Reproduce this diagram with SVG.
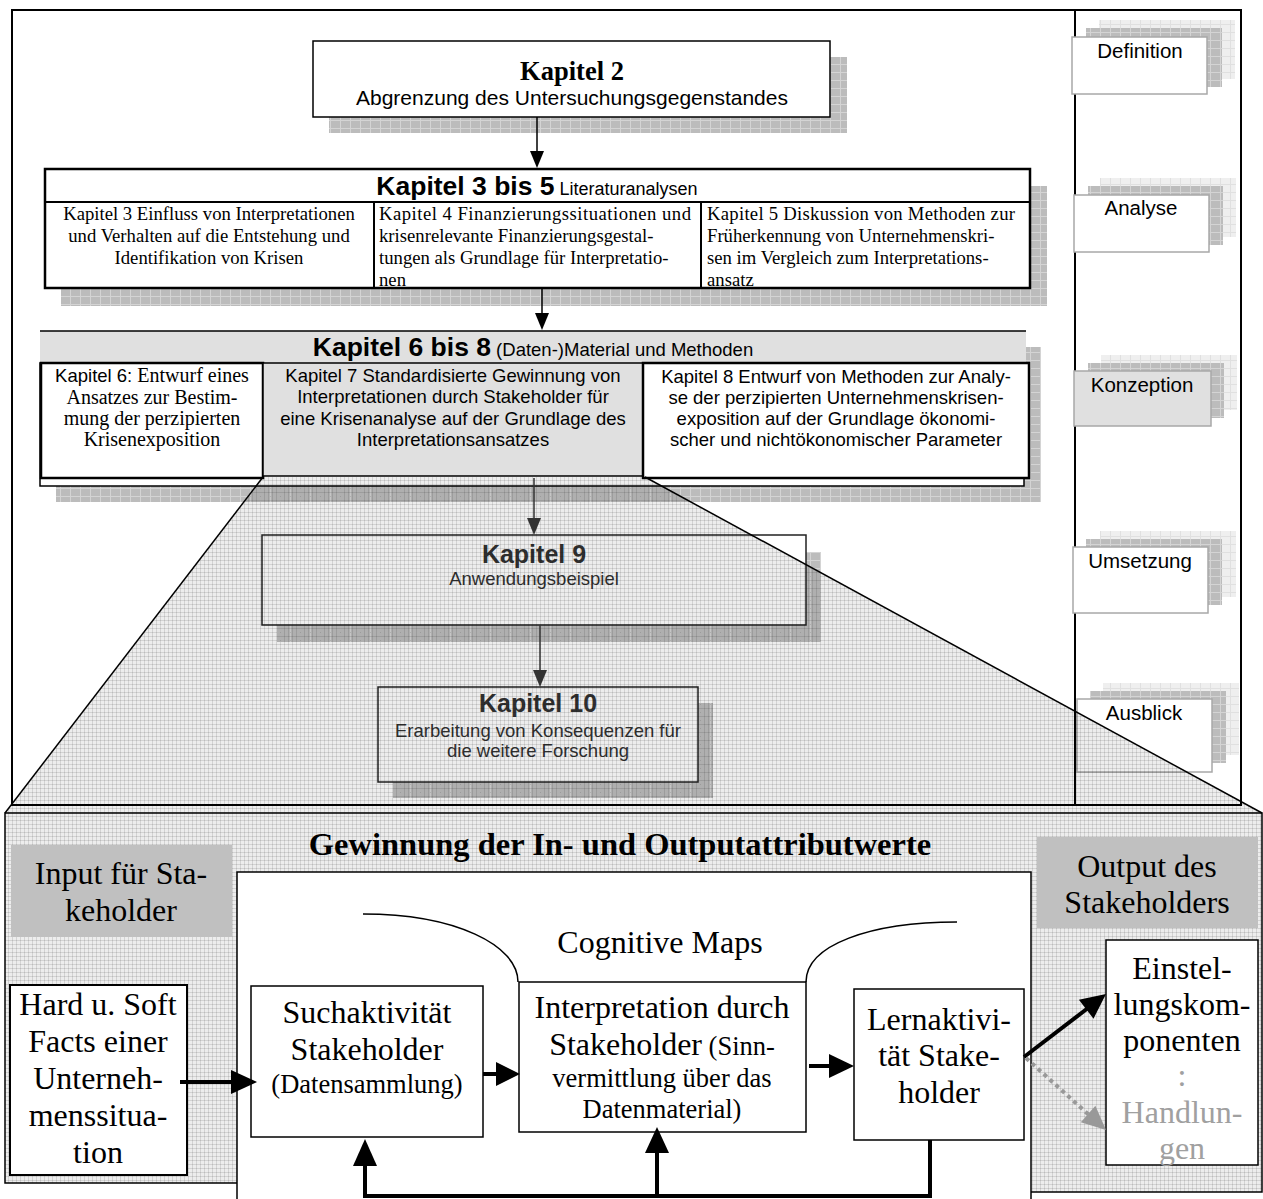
<svg xmlns="http://www.w3.org/2000/svg" width="1263" height="1199" viewBox="0 0 1263 1199">
<defs>
<style>
.sans{font-family:"Liberation Sans",Arial,sans-serif;}
.serif{font-family:"Liberation Serif","Times New Roman",serif;}
.b{font-weight:bold;}
.box{fill:#fff;stroke:#000;}
.lbl{fill:#fff;stroke:#a8a8a8;stroke-width:1.5;}
.ln{stroke:#000;fill:none;}
</style>
<pattern id="sh" width="10" height="8" patternUnits="userSpaceOnUse"><rect width="10" height="8" fill="#bcbcbc"/><path d="M0,0.5H10M0.5,0V8" stroke="#d4d4d4" stroke-width="1"/></pattern>
<pattern id="lt" width="10" height="8" patternUnits="userSpaceOnUse"><rect width="10" height="8" fill="#efefef"/><path d="M0,0.5H10M0.5,0V8" stroke="#e0e0e0" stroke-width="1"/></pattern>
<pattern id="mesh" width="4" height="4" patternUnits="userSpaceOnUse"><rect width="4" height="4" fill="#000" fill-opacity="0.07"/><path d="M0,0.5H4M0.5,0V4" stroke="#000" stroke-opacity="0.11" stroke-width="1"/></pattern>
</defs>
<rect width="1263" height="1199" fill="#fff"/>

<g id="frame">
<rect x="12" y="10" width="1229" height="795" fill="none" stroke="#000" stroke-width="2"/>
<line x1="1075" y1="10" x2="1075" y2="805" stroke="#000" stroke-width="2"/>
</g>

<g id="kapitel2">
<rect x="329" y="57" width="518" height="76" fill="url(#sh)"/>
<rect x="313" y="41" width="517" height="76" class="box" stroke-width="1.5"/>
<text x="572" y="80" class="serif b" font-size="26.5" text-anchor="middle">Kapitel 2</text>
<text x="572" y="105" class="sans" font-size="21" text-anchor="middle">Abgrenzung des Untersuchungsgegenstandes</text>
</g>

<g id="kapitel3-5">
<rect x="61" y="186" width="986" height="120" fill="url(#sh)"/>
<rect x="45" y="169" width="985" height="119" class="box" stroke-width="2.5"/>
<line x1="45" y1="202" x2="1030" y2="202" stroke="#000" stroke-width="2"/>
<line x1="374" y1="202" x2="374" y2="288" stroke="#000" stroke-width="2"/>
<line x1="701" y1="202" x2="701" y2="288" stroke="#000" stroke-width="2"/>
<text x="537" y="195" text-anchor="middle" class="sans"><tspan class="b" font-size="26.5">Kapitel 3 bis 5</tspan><tspan font-size="18"> Literaturanalysen</tspan></text>
<g class="serif" font-size="18.7" text-anchor="middle">
<text x="209" y="220">Kapitel 3 Einfluss von Interpretationen</text>
<text x="209" y="242">und Verhalten auf die Entstehung und</text>
<text x="209" y="264">Identifikation von Krisen</text>
</g>
<g class="serif" font-size="18.7">
<text x="379" y="220" textLength="312" lengthAdjust="spacing">Kapitel 4 Finanzierungssituationen und</text>
<text x="379" y="242">krisenrelevante Finanzierungsgestal-</text>
<text x="379" y="264">tungen als Grundlage für Interpretatio-</text>
<text x="379" y="286">nen</text>
<text x="707" y="220" textLength="308" lengthAdjust="spacing">Kapitel 5 Diskussion von Methoden zur</text>
<text x="707" y="242">Früherkennung von Unternehmenskri-</text>
<text x="707" y="264">sen im Vergleich zum Interpretations-</text>
<text x="707" y="286">ansatz</text>
</g>
</g>

<g id="kapitel6-8">
<rect x="56" y="347" width="985" height="155" fill="url(#sh)"/>
<rect x="40" y="363" width="984" height="123" class="box" stroke-width="1.5"/>
<rect x="40" y="331" width="986" height="32" fill="#e0e0e0"/>
<line x1="40" y1="331" x2="1026" y2="331" stroke="#000" stroke-width="1.5"/>
<rect x="41" y="363" width="222" height="115" class="box" stroke-width="2.5"/>
<rect x="263" y="363" width="380" height="113" fill="#e0e0e0" stroke="#000" stroke-width="1.5"/>
<rect x="643" y="363" width="386" height="115" class="box" stroke-width="2.5"/>
<text x="533" y="356" text-anchor="middle" class="sans"><tspan class="b" font-size="26.5">Kapitel 6 bis 8</tspan><tspan font-size="18.5"> (Daten-)Material und Methoden</tspan></text>
<g class="serif" font-size="20" text-anchor="middle">
<text x="152" y="382"><tspan class="sans" font-size="18.5">Kapitel 6:</tspan> Entwurf eines</text>
<text x="152" y="404">Ansatzes zur Bestim-</text>
<text x="152" y="425">mung der perzipierten</text>
<text x="152" y="446">Krisenexposition</text>
</g>
<g class="sans" font-size="18.5" text-anchor="middle">
<text x="453" y="382">Kapitel 7 Standardisierte Gewinnung von</text>
<text x="453" y="403">Interpretationen durch Stakeholder für</text>
<text x="453" y="425">eine Krisenanalyse auf der Grundlage des</text>
<text x="453" y="446">Interpretationsansatzes</text>
<text x="836" y="383">Kapitel 8 Entwurf von Methoden zur Analy-</text>
<text x="836" y="404">se der perzipierten Unternehmenskrisen-</text>
<text x="836" y="425">exposition auf der Grundlage ökonomi-</text>
<text x="836" y="446">scher und nichtökonomischer Parameter</text>
</g>
</g>

<g id="labels" class="sans" font-size="20.5" text-anchor="middle">
<g id="lbl-definition">
<rect x="1099" y="20" width="136" height="59" fill="url(#lt)"/>
<rect x="1086" y="28" width="136" height="59" fill="url(#sh)"/>
<rect x="1072" y="37" width="135" height="57" class="lbl"/>
<text x="1140" y="58">Definition</text>
</g>
<g id="lbl-analyse">
<rect x="1100" y="178" width="136" height="59" fill="url(#lt)"/>
<rect x="1088" y="186" width="135" height="59" fill="url(#sh)"/>
<rect x="1074" y="195" width="135" height="57" class="lbl"/>
<text x="1141" y="215">Analyse</text>
</g>
<g id="lbl-konzeption">
<rect x="1101" y="355" width="136" height="55" fill="url(#lt)"/>
<rect x="1088" y="363" width="136" height="55" fill="url(#sh)"/>
<rect x="1074" y="371" width="137" height="55" class="lbl" style="fill:#e0e0e0"/>
<text x="1142" y="392">Konzeption</text>
</g>
<g id="lbl-umsetzung">
<rect x="1100" y="531" width="136" height="66" fill="url(#lt)"/>
<rect x="1086" y="539" width="136" height="66" fill="url(#sh)"/>
<rect x="1073" y="547" width="135" height="66" class="lbl"/>
<text x="1140" y="568">Umsetzung</text>
</g>
<g id="lbl-ausblick">
<rect x="1103" y="683" width="136" height="72" fill="url(#lt)"/>
<rect x="1090" y="691" width="136" height="72" fill="url(#sh)"/>
<rect x="1077" y="699" width="135" height="73" class="lbl"/>
<text x="1144" y="720">Ausblick</text>
</g>
</g>

<g id="kapitel9">
<rect x="277" y="552" width="544" height="90" fill="url(#sh)"/>
<rect x="262" y="535" width="544" height="90" fill="#fff" stroke="#222" stroke-width="1.5"/>
<text x="534" y="563" class="sans b" font-size="25" text-anchor="middle" fill="#333">Kapitel 9</text>
<text x="534" y="585" class="sans" font-size="18.5" text-anchor="middle" fill="#333">Anwendungsbeispiel</text>
</g>

<g id="kapitel10">
<rect x="393" y="703" width="320" height="95" fill="url(#sh)"/>
<rect x="378" y="687" width="320" height="95" fill="#fff" stroke="#222" stroke-width="1.5"/>
<text x="538" y="712" class="sans b" font-size="25" text-anchor="middle" fill="#333">Kapitel 10</text>
<text x="538" y="737" class="sans" font-size="18.5" text-anchor="middle" fill="#333">Erarbeitung von Konsequenzen für</text>
<text x="538" y="757" class="sans" font-size="18.5" text-anchor="middle" fill="#333">die weitere Forschung</text>
</g>

<g id="funnel">
<polygon points="263,477 645,477 1262,813 5,813" fill="url(#mesh)"/>
<line x1="263" y1="477" x2="5" y2="813" stroke="#000" stroke-width="1.5"/>
<line x1="645" y1="477" x2="1262" y2="813" stroke="#000" stroke-width="1.5"/>
</g>

<g id="bottom-section">
<path d="M5,813 H1262 V1192 H1031 V1199 H237 V1183 H5 Z" fill="url(#mesh)"/>
<path d="M237,1183 H5 V813 H1262 V1192 H1031" class="ln" stroke-width="1.5"/>
<rect x="237" y="872" width="794" height="340" class="box" stroke-width="1.5"/>
<text x="620" y="855" class="serif b" font-size="32.5" text-anchor="middle">Gewinnung der In- und Outputattributwerte</text>
<path d="M363,914 C455,914 518,945 518,982" class="ln" stroke-width="1.5"/>
<path d="M806,982 C806,945 870,922 957,922" class="ln" stroke-width="1.5"/>
<text x="660" y="953" class="serif" font-size="32" text-anchor="middle">Cognitive Maps</text>
</g>

<g id="input-label">
<rect x="11" y="845" width="221" height="92" fill="#c0c0c0"/>
<text x="121" y="884" class="serif" font-size="32" text-anchor="middle">Input für Sta-</text>
<text x="121" y="921" class="serif" font-size="32" text-anchor="middle">keholder</text>
</g>

<g id="output-label">
<rect x="1037" y="837" width="221" height="91" fill="#c0c0c0"/>
<text x="1147" y="877" class="serif" font-size="32" text-anchor="middle">Output des</text>
<text x="1147" y="913" class="serif" font-size="32" text-anchor="middle">Stakeholders</text>
</g>

<g id="hard-soft" class="serif" font-size="32" text-anchor="middle">
<rect x="10" y="985" width="177" height="190" class="box" stroke-width="2"/>
<text x="98" y="1015">Hard u. Soft</text>
<text x="98" y="1052">Facts einer</text>
<text x="98" y="1089">Unterneh-</text>
<text x="98" y="1126">menssitua-</text>
<text x="98" y="1163">tion</text>
</g>

<g id="suchaktivitaet" class="serif" font-size="32" text-anchor="middle">
<rect x="251" y="986" width="232" height="151" class="box" stroke-width="1.5"/>
<text x="367" y="1023">Suchaktivität</text>
<text x="367" y="1060">Stakeholder</text>
<text x="367" y="1093" font-size="26.5">(Datensammlung)</text>
</g>

<g id="interpretation" class="serif" font-size="32" text-anchor="middle">
<rect x="519" y="982" width="287" height="150" class="box" stroke-width="1.5"/>
<text x="662" y="1018">Interpretation durch</text>
<text x="662" y="1055">Stakeholder<tspan font-size="26.5"> (Sinn-</tspan></text>
<text x="662" y="1087" font-size="26.5">vermittlung über das</text>
<text x="662" y="1118" font-size="26.5">Datenmaterial)</text>
</g>

<g id="lernaktivitaet" class="serif" font-size="32" text-anchor="middle">
<rect x="854" y="989" width="170" height="151" class="box" stroke-width="1.5"/>
<text x="939" y="1030">Lernaktivi-</text>
<text x="939" y="1066">tät Stake-</text>
<text x="939" y="1103">holder</text>
</g>

<g id="einstellung" class="serif" font-size="32" text-anchor="middle">
<rect x="1106" y="940" width="152" height="225" class="box" stroke-width="1.5"/>
<text x="1182" y="979">Einstel-</text>
<text x="1182" y="1015">lungskom-</text>
<text x="1182" y="1051">ponenten</text>
<text x="1182" y="1086" fill="#a0a0a0">:</text>
<text x="1182" y="1123" fill="#a0a0a0">Handlun-</text>
<text x="1182" y="1159" fill="#a0a0a0">gen</text>
</g>

<g id="connectors">
<line x1="537" y1="117" x2="537" y2="153" stroke="#000" stroke-width="1.5"/>
<polygon points="530,151 544,151 537,168" fill="#000"/>
<line x1="542" y1="288" x2="542" y2="315" stroke="#000" stroke-width="1.5"/>
<polygon points="535,313 549,313 542,330" fill="#000"/>
<line x1="534" y1="478" x2="534" y2="520" stroke="#333" stroke-width="1.5"/>
<polygon points="527,518 541,518 534,535" fill="#333"/>
<line x1="540" y1="625" x2="540" y2="672" stroke="#333" stroke-width="1.5"/>
<polygon points="533,670 547,670 540,687" fill="#333"/>
<line x1="180" y1="1082" x2="233" y2="1082" stroke="#000" stroke-width="4"/>
<polygon points="231,1070 257,1082 231,1094" fill="#000"/>
<line x1="483" y1="1074" x2="498" y2="1074" stroke="#000" stroke-width="4"/>
<polygon points="496,1062 520,1074 496,1086" fill="#000"/>
<line x1="809" y1="1066" x2="831" y2="1066" stroke="#000" stroke-width="4"/>
<polygon points="829,1054 854,1066 829,1078" fill="#000"/>
<line x1="1024" y1="1057" x2="1088" y2="1008" stroke="#000" stroke-width="4"/>
<polygon points="1093.5,1018.7 1106,994 1078.9,999.7" fill="#000"/>
<line x1="1026" y1="1058" x2="1089" y2="1115" stroke="#999" stroke-width="4" stroke-dasharray="4 4"/>
<polygon points="1080.8,1122.2 1106,1130 1095.4,1105.8" fill="#999"/>
<path d="M930,1140 V1196 H365 V1164 M657,1196 V1151" fill="none" stroke="#000" stroke-width="4"/>
<polygon points="353,1166 365,1139 377,1166" fill="#000"/>
<polygon points="645,1153 657,1127 669,1153" fill="#000"/>
</g>
</svg>
